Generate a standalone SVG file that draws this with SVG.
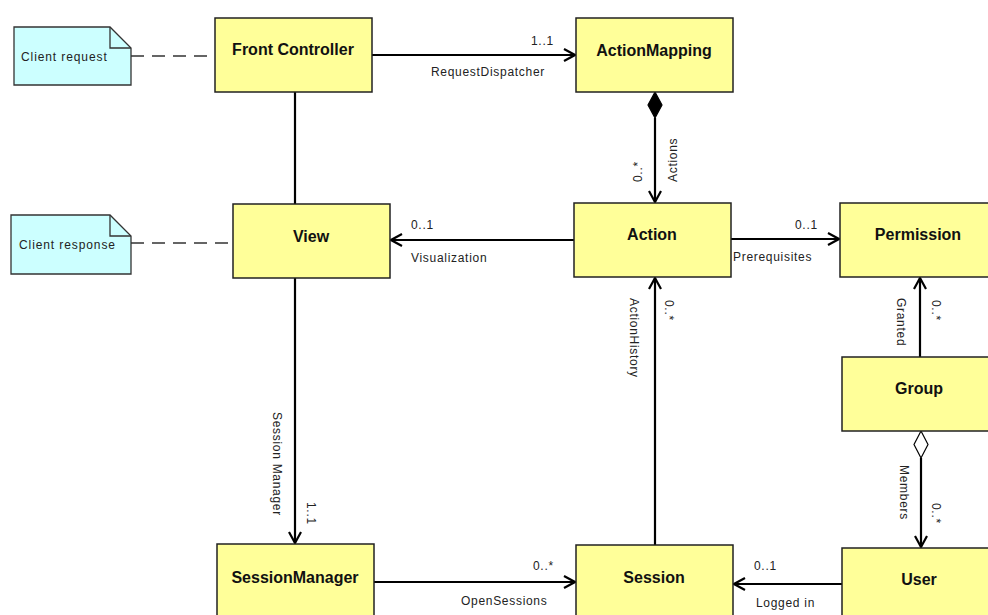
<svg xmlns="http://www.w3.org/2000/svg" width="988" height="615" viewBox="0 0 988 615">
  <style>
    .cls { fill: #ffff99; stroke: #222; stroke-width: 1.5; }
    .note { fill: #ccffff; stroke: #333; stroke-width: 1.3; }
    .fold { fill: none; stroke: #333; stroke-width: 1.3; }
    .title { font-family: "Liberation Sans", Arial, sans-serif; font-size: 16px; font-weight: bold; fill: #111; text-anchor: middle; }
    .ntext { font-family: "Liberation Sans", Arial, sans-serif; font-size: 12px; letter-spacing: 0.9px; fill: #222; }
    .lbl { font-family: "Liberation Sans", Arial, sans-serif; font-size: 12px; letter-spacing: 0.7px; fill: #222; }
    .assoc { fill: none; stroke: #000; stroke-width: 2.2; }
    .dash { fill: none; stroke: #333; stroke-width: 1.3; stroke-dasharray: 13 8; }
  </style>
  <defs>
    <marker id="open" markerUnits="userSpaceOnUse" markerWidth="14" markerHeight="14" viewBox="0 0 14 14" refX="12" refY="7" orient="auto">
      <path d="M1,1 L12,7 L1,13" fill="none" stroke="#000" stroke-width="2.2"/>
    </marker>
  </defs>
  <rect width="988" height="615" fill="#fff"/>

  <!-- connectors -->
  <g id="connectors">
    <line class="dash" x1="131" y1="56" x2="215" y2="56"/>
    <line class="dash" x1="131" y1="243" x2="233" y2="243"/>
    <line class="assoc" x1="295" y1="92" x2="295" y2="204"/>
    <line class="assoc" x1="372" y1="55" x2="575" y2="55" marker-end="url(#open)"/>
    <path d="M655,92 L662,105 L655,118 L648,105 Z" fill="#000" stroke="#000" stroke-width="1.2"/>
    <line class="assoc" x1="655" y1="118" x2="655" y2="202" marker-end="url(#open)"/>
    <line class="assoc" x1="574" y1="240" x2="391" y2="240" marker-end="url(#open)"/>
    <line class="assoc" x1="731" y1="239" x2="839" y2="239" marker-end="url(#open)"/>
    <line class="assoc" x1="655" y1="545" x2="655" y2="278" marker-end="url(#open)"/>
    <line class="assoc" x1="920" y1="357" x2="920" y2="278" marker-end="url(#open)"/>
    <path d="M921,431 L928,444.5 L921,458 L914,444.5 Z" fill="#fff" stroke="#000" stroke-width="1.2"/>
    <line class="assoc" x1="921" y1="458" x2="921" y2="547" marker-end="url(#open)"/>
    <line class="assoc" x1="295" y1="278" x2="295" y2="543" marker-end="url(#open)"/>
    <line class="assoc" x1="374" y1="582" x2="575" y2="582" marker-end="url(#open)"/>
    <line class="assoc" x1="842" y1="584" x2="734" y2="584" marker-end="url(#open)"/>

    <!-- association labels -->
    <text class="lbl" x="531" y="45">1..1</text>
    <text class="lbl" x="431" y="76">RequestDispatcher</text>
    <text class="lbl" transform="translate(677,182) rotate(-90)">Actions</text>
    <text class="lbl" transform="translate(642,182) rotate(-90)">0..*</text>
    <text class="lbl" x="411" y="229">0..1</text>
    <text class="lbl" x="411" y="262">Visualization</text>
    <text class="lbl" x="795" y="229">0..1</text>
    <text class="lbl" x="733" y="261">Prerequisites</text>
    <text class="lbl" transform="translate(630,298) rotate(90)">ActionHistory</text>
    <text class="lbl" transform="translate(665,300) rotate(90)">0..*</text>
    <text class="lbl" transform="translate(897,298) rotate(90)">Granted</text>
    <text class="lbl" transform="translate(932,300) rotate(90)">0..*</text>
    <text class="lbl" transform="translate(900,465) rotate(90)">Members</text>
    <text class="lbl" transform="translate(932,503) rotate(90)">0..*</text>
    <text class="lbl" transform="translate(273,412) rotate(90)">Session Manager</text>
    <text class="lbl" transform="translate(307,502) rotate(90)">1..1</text>
    <text class="lbl" x="533" y="570">0..*</text>
    <text class="lbl" x="461" y="605">OpenSessions</text>
    <text class="lbl" x="754" y="570">0..1</text>
    <text class="lbl" x="756" y="607">Logged in</text>
  </g>

  <!-- notes -->
  <g id="note-client-request">
    <path class="note" d="M14,27 H110 L131,48 V85 H14 Z"/>
    <path class="fold" d="M110,27 V48 H131"/>
    <text class="ntext" x="21" y="61">Client request</text>
  </g>
  <g id="note-client-response">
    <path class="note" d="M11,215 H110 L131,236 V274 H11 Z"/>
    <path class="fold" d="M110,215 V236 H131"/>
    <text class="ntext" x="19" y="249">Client response</text>
  </g>

  <!-- classes -->
  <g id="front-controller">
    <rect class="cls" x="215" y="18" width="157" height="74"/>
    <text class="title" x="293" y="55">Front Controller</text>
  </g>
  <g id="action-mapping">
    <rect class="cls" x="576" y="18" width="157" height="74"/>
    <text class="title" x="654" y="56">ActionMapping</text>
  </g>
  <g id="view">
    <rect class="cls" x="233" y="204" width="157" height="74"/>
    <text class="title" x="311" y="242">View</text>
  </g>
  <g id="action">
    <rect class="cls" x="574" y="203" width="157" height="74"/>
    <text class="title" x="652" y="240">Action</text>
  </g>
  <g id="permission">
    <rect class="cls" x="840" y="203" width="155" height="74"/>
    <text class="title" x="918" y="240">Permission</text>
  </g>
  <g id="group">
    <rect class="cls" x="842" y="357" width="155" height="74"/>
    <text class="title" x="919" y="394">Group</text>
  </g>
  <g id="session-manager">
    <rect class="cls" x="217" y="544" width="157" height="76"/>
    <text class="title" x="295" y="583">SessionManager</text>
  </g>
  <g id="session">
    <rect class="cls" x="576" y="545" width="157" height="75"/>
    <text class="title" x="654" y="583">Session</text>
  </g>
  <g id="user">
    <rect class="cls" x="842" y="548" width="155" height="75"/>
    <text class="title" x="919" y="585">User</text>
  </g>
</svg>
